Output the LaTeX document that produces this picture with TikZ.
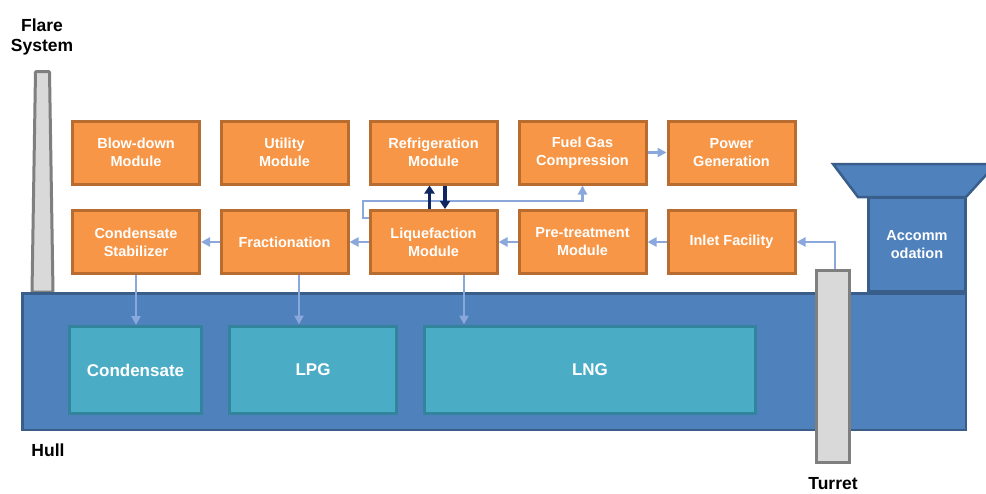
\documentclass[tikz,border=0pt]{standalone}
\usepackage{fontspec}
\setmainfont{Liberation Sans}
\usetikzlibrary{arrows.meta,calc}
\definecolor{modfill}{HTML}{F79646}
\definecolor{modline}{HTML}{B86C30}
\definecolor{hullfill}{HTML}{4F81BD}
\definecolor{hullline}{HTML}{3A5E8A}
\definecolor{tankfill}{HTML}{4BACC6}
\definecolor{tankline}{HTML}{31849B}
\definecolor{pipe}{HTML}{8AA8DC}
\definecolor{navy}{HTML}{0F2660}
\definecolor{steel}{HTML}{D9D9D9}
\definecolor{steelline}{HTML}{7F7F7F}
\tikzset{
  module/.style={draw=modline, fill=modfill, line width=3pt,
    minimum width=127pt, minimum height=63pt, inner sep=0pt,
    align=center, text=white,
    font=\fontsize{14.5}{18}\selectfont\bfseries},
  tank/.style={draw=tankline, fill=tankfill, line width=3pt,
    minimum height=87pt, inner sep=0pt, text=white,
    font=\fontsize{17}{20}\selectfont\bfseries},
  label/.style={align=center, text=black,
    font=\fontsize{17.5}{20}\selectfont\bfseries},
  pipeline/.style={draw=pipe, line width=2.2pt,
    -{Triangle[length=9pt,width=9pt]}},
  loop/.style={draw=navy, line width=3.5pt,
    -{Triangle[length=8pt,width=10pt]}},
}
\begin{document}
\begin{tikzpicture}[x=1pt,y=-1pt]
\clip (0,0) rectangle (986,493);
\fill[white] (0,0) rectangle (986,493);

% flare stack
\draw[fill=steel, draw=steelline, line width=3pt, rounded corners=1pt]
  (35.5,71.5) -- (49.5,71.5) -- (53,292) -- (32,292) -- cycle;
\node[label] (flare) at (42,37) {Flare\\System};

% accommodation block
\draw[fill=hullfill, draw=hullline, line width=2.5pt]
  (833,164) -- (996,164) -- (966,197) -- (858,197) -- cycle;
\node[draw=hullline, fill=hullfill, line width=2.5pt, minimum width=97pt,
  minimum height=93pt, inner sep=0pt, align=center, text=white,
  font=\fontsize{14.5}{18}\selectfont\bfseries] (accom) at (917,244.5) {Accomm\\odation};

% hull
\node[draw=hullline, fill=hullfill, line width=2.5pt, minimum width=943.5pt,
  minimum height=136.5pt, inner sep=0pt] (hull) at (494,361.5) {};
\node[label] (hulltxt) at (48,450) {Hull};

% storage tanks
\node[tank, minimum width=132pt] (tcond) at (135.5,370) {Condensate};
\node[tank, minimum width=167pt] (tlpg) at (313,369.5) {LPG};
\node[tank, minimum width=331pt] (tlng) at (590,369.5) {LNG};

% turret
\node[draw=steelline, fill=steel, line width=3pt, minimum width=33pt,
  minimum height=192pt, inner sep=0pt] (turret) at (833,366.5) {};
\node[label] (turrettxt) at (833,484) {Turret};

% process modules, upper row
\node[module] (blow)  at (136,152.5)   {Blow-down\\Module};
\node[module] (util)  at (284.5,152.5) {Utility\\Module};
\node[module] (refr)  at (433.5,152.5) {Refrigeration\\Module};
\node[module] (fuel)  at (582.5,152.5) {Fuel Gas\\Compression};
\node[module] (power) at (731.5,152.5) {Power\\Generation};

% process modules, lower row
\node[module] (cstab) at (136,242)   {Condensate\\Stabilizer};
\node[module] (frac)  at (284.5,242) {Fractionation};
\node[module] (liq)   at (433.5,242) {Liquefaction\\Module};
\node[module] (pre)   at (582.5,242) {Pre-treatment\\Module};
\node[module] (inlet) at (731.5,242) {Inlet Facility};

% process flow
\draw[pipeline] ([xshift=2pt]turret.north) |- (inlet.east);
\draw[pipeline] (inlet.west) -- (pre.east);
\draw[pipeline] (pre.west) -- (liq.east);
\draw[pipeline] (liq.west) -- (frac.east);
\draw[pipeline] (frac.west) -- (cstab.east);
\draw[pipeline] (fuel.east) -- (power.west);
\coordinate (bend) at (363,201);
\draw[pipeline] ([yshift=24pt]liq.west) -| (bend) -| (fuel.south);

% product rundown to storage
\draw[pipeline] (cstab.south) -- (cstab.south |- tcond.north);
\draw[pipeline] ([xshift=14.5pt]frac.south) -- ([xshift=14.5pt]frac.south |- tlpg.north);
\draw[pipeline] ([xshift=30.5pt]liq.south) -- ([xshift=30.5pt]liq.south |- tlng.north);

% refrigerant loop
\draw[loop] ([xshift=-4pt]liq.north) -- ([xshift=-4pt]liq.north |- refr.south);
\draw[loop] ([xshift=11.5pt]refr.south) -- ([xshift=11.5pt]refr.south |- liq.north);
\end{tikzpicture}
\end{document}
